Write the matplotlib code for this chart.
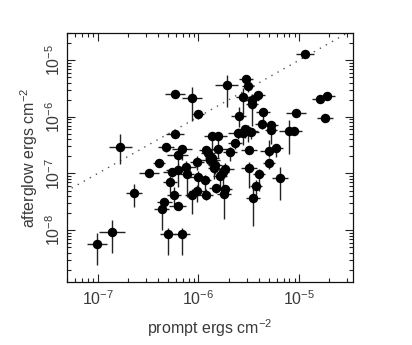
import numpy as np
import matplotlib
matplotlib.use("Agg")
import matplotlib.pyplot as plt
from matplotlib.ticker import LogLocator, FuncFormatter, NullFormatter

plt.rcParams['font.family'] = ['Liberation Sans', 'DejaVu Sans']
plt.rcParams['mathtext.fontset'] = 'custom'
plt.rcParams['mathtext.rm'] = 'Liberation Sans'
plt.rcParams['mathtext.it'] = 'Liberation Sans'
plt.rcParams['mathtext.default'] = 'regular'

# prompt fluence (ergs cm^-2)
prompt = [1.14e-5, 2.94e-6, 3.1e-6, 1.9e-6, 5.9e-7, 8.6e-7, 2.8e-6, 3.4e-6, 3.9e-6, 3.4e-6,
          1.0e-6, 2.5e-6, 4.4e-6, 9.3e-6, 1.6e-5, 1.87e-5, 1.8e-5, 4.3e-6, 5.3e-6, 5.2e-6,
          8.0e-6, 8.9e-6, 5.9e-7, 1.35e-6, 1.58e-6, 2.45e-6, 2.9e-6, 3.1e-6, 2.75e-6, 2.3e-6,
          1.68e-7, 4.8e-7, 6.8e-7, 6.2e-7, 1.2e-6, 1.58e-6, 2.06e-6, 3.2e-6, 5.05e-6, 5.9e-6,
          4.1e-7, 3.2e-7, 9.6e-7, 7.5e-7, 5.4e-7, 6.3e-7, 1.3e-6, 1.43e-6, 1.84e-6, 1.75e-6,
          7.7e-7, 1.0e-6, 1.16e-6, 1.64e-6, 3.2e-6, 4.0e-6, 5.05e-6, 6.5e-6, 5.2e-7, 2.3e-7,
          1.5e-6, 1.84e-6, 9.6e-7, 8.6e-7, 1.2e-6, 1.8e-6, 5.7e-7, 4.6e-7, 4.3e-7, 6.2e-7,
          3.5e-6, 3.7e-6, 5.0e-7, 6.9e-7, 1.39e-7, 9.8e-8, 1.25e-6, 1.35e-6, 1.45e-6, 3.3e-6]
# afterglow fluence (ergs cm^-2)
afterglow = [1.28e-5, 4.7e-6, 3.5e-6, 3.6e-6, 2.5e-6, 2.16e-6, 2.25e-6, 1.97e-6, 2.4e-6, 1.65e-6,
             1.1e-6, 1.04e-6, 1.22e-6, 1.19e-6, 2.05e-6, 2.35e-6, 9.6e-7, 7.6e-7, 7.1e-7, 5.8e-7,
             5.6e-7, 5.6e-7, 4.9e-7, 4.6e-7, 4.6e-7, 5.1e-7, 6.05e-7, 5.6e-7, 5.1e-7, 3.4e-7,
             2.96e-7, 2.96e-7, 2.7e-7, 2.1e-7, 2.6e-7, 2.65e-7, 2.35e-7, 2.6e-7, 2.5e-7, 2.8e-7,
             1.5e-7, 1.0e-7, 1.6e-7, 1.3e-7, 1.07e-7, 1.15e-7, 1.7e-7, 1.26e-7, 1.22e-7, 1.07e-7,
             9.6e-8, 8.7e-8, 7.6e-8, 9.1e-8, 1.26e-7, 9.7e-8, 1.5e-7, 8.2e-8, 7.1e-8, 4.6e-8,
             5.6e-8, 5.4e-8, 4.9e-8, 4.25e-8, 4.25e-8, 4.4e-8, 4.15e-8, 3.1e-8, 2.35e-8, 2.7e-8,
             3.7e-8, 6.05e-8, 8.5e-9, 8.5e-9, 9.1e-9, 5.7e-9, 2.3e-7, 1.9e-7, 1.4e-7, 5.4e-7]
# errors in dex
prompt_err = [.09, .07, .06, .11, .10, .10, .07, .07, .07, .06,
              .06, .07, .07, .10, .08, .08, .08, .07, .07, .06,
              .10, .08, .09, .08, .08, .10, .08, .10, .08, .07,
              .11, .08, .10, .10, .07, .08, .07, .08, .09, .07,
              .06, .10, .07, .10, .08, .12, .10, .06, .09, .06,
              .07, .08, .06, .07, .08, .06, .06, .08, .07, .08,
              .07, .07, .08, .07, .07, .07, .07, .07, .07, .08,
              .07, .06, .08, .08, .13, .10, .07, .07, .07, .08]
afterglow_err_up = [.04, .06, .06, .19, .03, .20, .15, .10, .04, .05,
                    .05, .15, .05, .04, .05, .05, .03, .05, .04, .10,
                    .20, .05, .04, .05, .05, .05, .08, .10, .05, .05,
                    .22, .05, .05, .10, .05, .05, .10, .05, .20, .05,
                    .04, .04, .10, .10, .05, .10, .10, .10, .10, .10,
                    .10, .10, .10, .10, .10, .10, .10, .20, .10, .15,
                    .05, .05, .10, .10, .10, .10, .15, .05, .10, .05,
                    .20, .10, .10, .10, .22, .19, .08, .08, .08, .06]
afterglow_err_dn = [.04, .06, .10, .38, .03, .40, .30, .45, .04, .10,
                    .08, .20, .20, .04, .05, .05, .03, .10, .08, .25,
                    .40, .05, .04, .25, .25, .10, .15, .20, .20, .10,
                    .30, .10, .20, .20, .20, .15, .15, .05, .10, .15,
                    .04, .04, .15, .15, .10, .30, .15, .20, .15, .30,
                    .40, .30, .20, .25, .35, .30, .10, .38, .20, .25,
                    .10, .10, .20, .35, .10, .45, .20, .10, .37, .05,
                    .50, .20, .37, .37, .37, .37, .15, .15, .15, .12]

x = np.array(prompt)
y = np.array(afterglow)
xe = np.array(prompt_err)
yu = np.array(afterglow_err_up)
yd = np.array(afterglow_err_dn)
xerr = np.vstack([x - x * 10**(-xe), x * 10**xe - x])
yerr = np.vstack([y - y * 10**(-yd), y * 10**yu - y])

fig = plt.figure(figsize=(4.12, 3.45), dpi=100)
ax = fig.add_axes([0.163, 0.183, 0.694, 0.721])

xmin, xmax = 4.97e-8, 3.43e-5
ymin, ymax = 1.22e-9, 3.0e-5
line = np.array([1e-9, 1e-4])
ax.plot(line, line, linestyle=(0, (1, 4)), color='#555555', linewidth=1.0, zorder=1)

ax.errorbar(x, y, xerr=xerr, yerr=yerr, fmt='o', color='black', ms=5.8,
            ecolor='#222222', elinewidth=1.0, capsize=0, zorder=3)

ax.set_xscale('log')
ax.set_yscale('log')
ax.set_xlim(xmin, xmax)
ax.set_ylim(ymin, ymax)

fmt = FuncFormatter(lambda v, p: r'$10^{%d}$' % int(round(np.log10(v))))
ax.xaxis.set_major_locator(LogLocator(base=10, numticks=20))
ax.yaxis.set_major_locator(LogLocator(base=10, numticks=20))
ax.xaxis.set_minor_locator(LogLocator(base=10, subs=np.arange(2, 10), numticks=20))
ax.yaxis.set_minor_locator(LogLocator(base=10, subs=np.arange(2, 10), numticks=20))
ax.xaxis.set_major_formatter(fmt)
ax.yaxis.set_major_formatter(fmt)
ax.xaxis.set_minor_formatter(NullFormatter())
ax.yaxis.set_minor_formatter(NullFormatter())

ax.tick_params(which='both', direction='in', top=True, right=True, color='#222222',
               labelcolor='#3a3a3a', labelsize=11.5, width=0.8)
ax.tick_params(which='major', length=6)
ax.tick_params(which='minor', length=3)
ax.tick_params(axis='x', pad=5)
ax.tick_params(axis='y', pad=3)
for lab in ax.get_yticklabels():
    lab.set_rotation(90)
    lab.set_va('center')
for s in ax.spines.values():
    s.set_color('#111111')
    s.set_linewidth(0.9)

ax.set_xlabel(r'prompt ergs cm$^{-2}$', fontsize=11.5, color='#3a3a3a', labelpad=7)
ax.set_ylabel(r'afterglow ergs cm$^{-2}$', fontsize=11.5, color='#3a3a3a', labelpad=3)

fig.savefig('out.png', dpi=100)
